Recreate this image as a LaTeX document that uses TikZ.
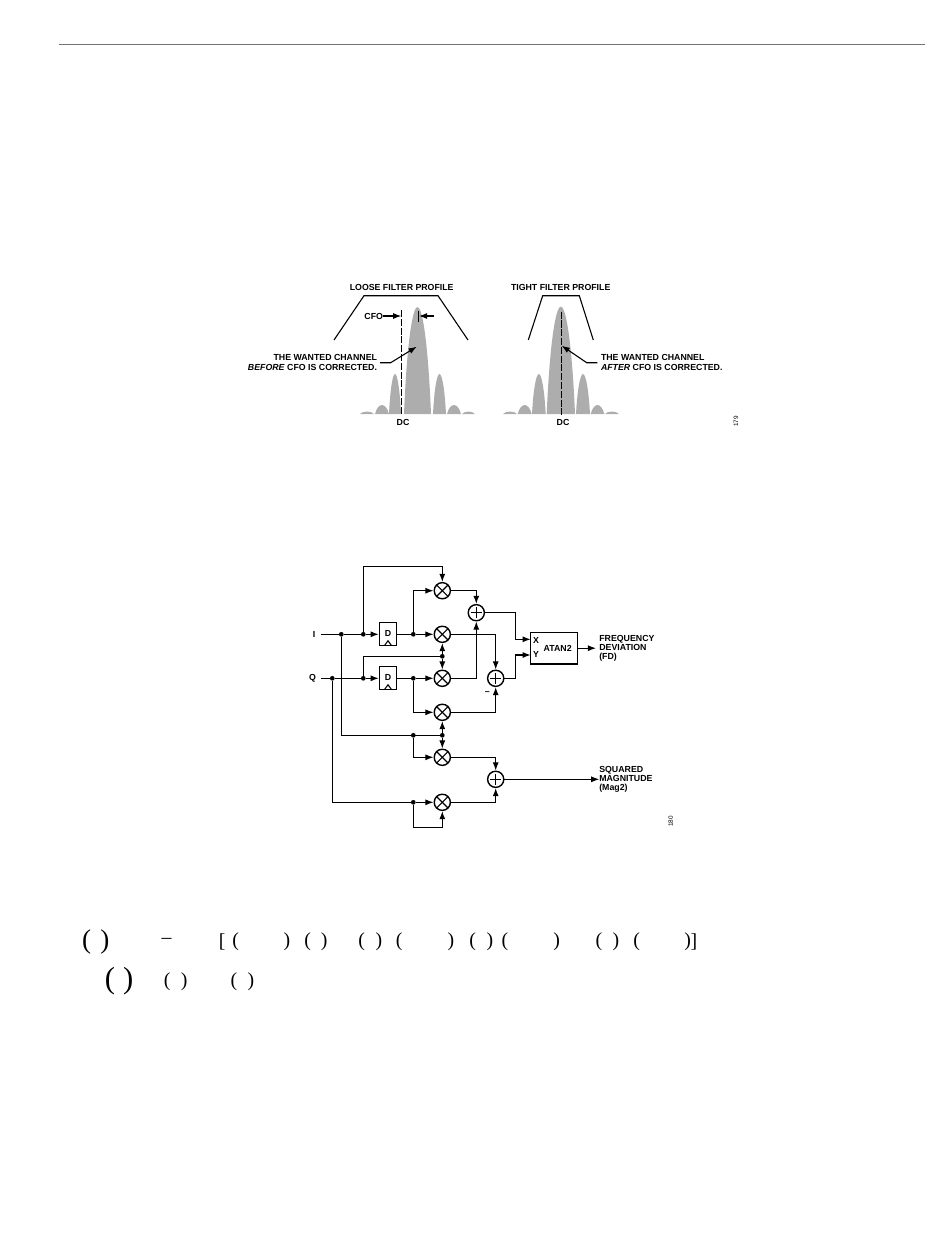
\documentclass[tikz,border=0pt]{standalone}
\usepackage{fontspec}
\setmainfont{Liberation Sans}
\newfontfamily\eqfont{Liberation Serif}
\usetikzlibrary{arrows.meta}

% one lobe of the spectrum: left end, right end, height of the top
\newcommand{\lobeat}[3]{
  \fill [lobe] (#1,414) .. controls ({#1+0.10*(#2-#1)},{414-0.62*(414-#3)}) and ({#1+0.30*(#2-#1)},#3) .. ({(#1+#2)/2},#3)
    .. controls ({#2-0.30*(#2-#1)},#3) and ({#2-0.10*(#2-#1)},{414-0.62*(414-#3)}) .. (#2,414) -- cycle;
}

\tikzset{
  >={Latex[length=4.6pt,width=3.4pt]},
  wire/.style={line width=0.62pt},
  lobe/.style={fill=black!32},
  lbl/.style={font=\fontsize{5}{5.7}\selectfont\bfseries, inner sep=0pt, outer sep=0pt},
  lbllow/.style={font=\fontsize{5}{5.1}\selectfont\bfseries, inner sep=0pt, outer sep=0pt},
  figno/.style={font=\fontsize{3.6}{4}\selectfont, rotate=90, inner sep=0pt},
  eqpar/.style={font=\eqfont\fontsize{11.3}{12}\selectfont, inner sep=0pt},
  eqbig/.style={font=\eqfont\fontsize{15.4}{16}\selectfont, inner sep=0pt},
  eqhuge/.style={font=\eqfont\fontsize{17.4}{18}\selectfont, inner sep=0pt},
  dot/.style={fill=black, circle, inner sep=0pt, minimum size=2.7pt},
  delaybox/.style={draw, wire, inner sep=0pt, minimum width=9.9pt, minimum height=13.3pt, fill=white},
  mult/.style={draw, line width=0.8pt, circle, inner sep=0pt, minimum size=9.2pt,
    path picture={\draw[wire] (path picture bounding box.north west) -- (path picture bounding box.south east);
                  \draw[wire] (path picture bounding box.north east) -- (path picture bounding box.south west);}},
  adder/.style={draw, line width=0.8pt, circle, inner sep=0pt, minimum size=9.2pt,
    path picture={\draw[wire] ([xshift=-3.2pt]path picture bounding box.center) -- ([xshift=3.2pt]path picture bounding box.center);
                  \draw[wire] ([yshift=-3.2pt]path picture bounding box.center) -- ([yshift=3.2pt]path picture bounding box.center);}},
}

\begin{document}
\begin{tikzpicture}[x=0.02cm, y=-0.02cm]
\useasboundingbox (0,0) rectangle (950,1248);

% page rule
\draw [black!55, line width=0.5pt] (59,44) -- (925,44);

% left spectrum
\lobeat{360}{374}{411.5}
\lobeat{375}{389}{405}
\lobeat{389}{401}{374}
\lobeat{404}{431}{307}
\lobeat{433}{446}{374}
\lobeat{447}{461}{405}
\lobeat{462}{475}{411.5}

\draw [wire] (334,340) -- (364,295.7) -- (438,295.7) -- (468,340);
\draw [wire, dash pattern=on 4pt off 1pt] (401.3,310) -- (401.3,415);
\draw [wire] (418.7,311) -- (418.7,322);

\node [lbl] (looseT) at (401.7,287.3) {LOOSE FILTER PROFILE};
\node [lbl, anchor=east] (cfoL) at (383,316) {CFO};
\coordinate (cfoA) at (401.3,316);
\coordinate (cfoB) at (419,316);
\coordinate (cfoC) at (434,316);
\draw [wire, ->] (cfoL) -- (cfoA);
\draw [wire, ->] (cfoC) -- (cfoB);

\node [lbl, anchor=north east, align=right] (beforeL) at (377,354.5) {THE WANTED CHANNEL\\\textit{BEFORE} CFO IS CORRECTED.};
\coordinate (beforeA) at (380,362.7);
\coordinate (beforeB) at (390.7,362.7);
\coordinate (beforeC) at (416.7,346.7);
\draw [wire, ->] (beforeA) -- (beforeB) -- (beforeC);
\node [lbl] (dcL) at (403,422.7) {DC};

% right spectrum
\lobeat{503}{517}{411.5}
\lobeat{517.7}{531.7}{405}
\lobeat{532}{545.7}{374}
\lobeat{546.7}{575}{306.7}
\lobeat{576}{590}{374}
\lobeat{590.7}{604.3}{405}
\lobeat{605}{619}{411.5}

\draw [wire] (528.3,340) -- (542.7,295.7) -- (579.3,295.7) -- (593.3,340);
\draw [wire, dash pattern=on 4pt off 1pt] (561.3,311.7) -- (561.3,415);

\node [lbl] (tightT) at (560.7,287.3) {TIGHT FILTER PROFILE};
\node [lbl, anchor=north west, align=left] (afterL) at (601,354.5) {THE WANTED CHANNEL\\\textit{AFTER} CFO IS CORRECTED.};
\coordinate (afterA) at (597.3,362.7);
\coordinate (afterB) at (586.7,362.7);
\coordinate (afterC) at (561.7,345.7);
\draw [wire, ->] (afterA) -- (afterB) -- (afterC);
\node [lbl] (dcR) at (563,422.7) {DC};
\node [figno] (fig179) at (736,421.7) {179};

% multipliers, adders, delays
\node [mult] (M1) at (442.3,590.7) {};
\node [mult] (M2) at (442.3,634.3) {};
\node [mult] (M3) at (442.3,678.3) {};
\node [mult] (M4) at (442.3,712.3) {};
\node [mult] (M5) at (442.3,757.3) {};
\node [mult] (M6) at (442.3,802.3) {};

\node [adder] (A1) at (476.3,612.7) {};
\node [adder] (A2) at (495.7,678.3) {};
\node [adder] (A3) at (495.7,779.3) {};

\node [delaybox] (D1) at (388,634) {};
\node [delaybox] (D2) at (388,678) {};
\node [lbllow] (D1t) at (388,633) {D};
\node [lbllow] (D2t) at (388,677) {D};
\draw [wire] (384.5,645.5) -- (388,640.8) -- (391.5,645.5);
\draw [wire] (384.5,689.5) -- (388,684.8) -- (391.5,689.5);

\node [lbllow] (inI) at (314,634.3) {I};
\node [lbllow] (inQ) at (312.5,678.3) {Q};

\node [dot] (dIa) at (341.3,634.3) {};
\node [dot] (dIb) at (363.3,634.3) {};
\node [dot] (dIc) at (413.3,634.3) {};
\node [dot] (dQa) at (332.3,678.3) {};
\node [dot] (dQb) at (363.3,678.3) {};
\node [dot] (dQc) at (413.3,678.3) {};
\node [dot] (dMid) at (442.3,656.3) {};
\node [dot] (dLowL) at (413.3,735.3) {};
\node [dot] (dLow) at (442.3,735.3) {};
\node [dot] (dBot) at (413.3,802.3) {};

\coordinate (cTop) at (442.3,566.7);
\coordinate (cLoop) at (442.3,827.3);
\coordinate (cXup) at (515.3,612.7);
\coordinate (cYdn) at (515.3,678.3);
\coordinate (cX) at (530.7,639.3);
\coordinate (cY) at (530.7,655);
\coordinate (cFd) at (596,648.2);

% inputs
\draw [wire, shorten <=3.5pt] (inI) -- (dIa);
\draw [wire] (dIa) -- (dIb);
\draw [wire, ->] (dIb) -- (D1.west |- dIb);
\draw [wire, shorten <=3pt] (inQ) -- (dQa);
\draw [wire] (dQa) -- (dQb);
\draw [wire, ->] (dQb) -- (D2.west |- dQb);

% multiplier inputs
\draw [wire, ->] (dIb) |- (cTop) -- (M1);
\draw [wire] (D1.east |- dIc) -- (dIc);
\draw [wire, ->] (dIc) |- (M1);
\draw [wire, ->] (dIc) -- (M2);
\draw [wire] (D2.east |- dQc) -- (dQc);
\draw [wire, ->] (dQc) -- (M3);
\draw [wire, ->] (dQc) |- (M4);
\draw [wire] (dQb) |- (dMid);
\draw [wire, ->] (dMid) -- (M2);
\draw [wire, ->] (dMid) -- (M3);
\draw [wire] (dIa) |- (dLow);
\draw [wire, ->] (dLow) -- (M4);
\draw [wire, ->] (dLow) -- (M5);
\draw [wire, ->] (dLowL) |- (M5);
\draw [wire] (dQa) |- (dBot);
\draw [wire, ->] (dBot) -- (M6);
\draw [wire, ->] (dBot) |- (cLoop) -- (M6);

% multiplier outputs
\draw [wire, ->] (M1) -| (A1);
\draw [wire, ->] (M2) -| (A2);
\draw [wire, ->] (M3) -| (A1);
\draw [wire, ->] (M4) -| (A2);
\draw [wire, ->] (M5) -| (A3);
\draw [wire, ->] (M6) -| (A3);
\node [lbllow] (minus) at (487.3,693.3) {--};

% atan2
\node [draw, wire, inner sep=0pt, minimum width=26.4pt, minimum height=18pt] (atan) at (554,648.2) {};
\node [lbllow] (atanT) at (557.7,648.3) {ATAN2};
\node [lbllow] (xT) at (536,640) {X};
\node [lbllow] (yT) at (536,654.3) {Y};
\draw [wire, ->] (A1) -- (cXup) |- (cX);
\draw [wire, ->] (A2) -- (cYdn) |- (cY);

\node [lbllow, anchor=west, align=left] (fdL) at (599.3,648.3) {FREQUENCY\\DEVIATION\\(FD)};
\node [lbllow, anchor=west, align=left] (magL) at (599.3,779.3) {SQUARED\\MAGNITUDE\\(Mag2)};
\draw [wire, ->] (atan) -- (cFd);
\draw [wire, ->] (A3) -- (magL);
\node [figno] (fig180) at (670.7,821.7) {180};

% equation fragments
\node [eqbig] (pa) at (86.7,941.7) {(};
\node [eqbig] (pb) at (105,941.7) {)};
\node [eqpar] (pc) at (166.7,940.5) {–};
\node [eqpar] (pd) at (222.3,941.7) {[};
\node [eqpar] (pe) at (235.7,941.7) {(};
\node [eqpar] (pf) at (287,941.7) {)};
\node [eqpar] (pg) at (307.7,941.7) {(};
\node [eqpar] (ph) at (324.3,941.7) {)};
\node [eqpar] (pi) at (361.7,941.7) {(};
\node [eqpar] (pj) at (379,941.7) {)};
\node [eqpar] (pk) at (399.3,941.7) {(};
\node [eqpar] (pl) at (451,941.7) {)};
\node [eqpar] (pm) at (472.7,941.7) {(};
\node [eqpar] (pn) at (490,941.7) {)};
\node [eqpar] (po) at (505,941.7) {(};
\node [eqpar] (pp) at (556.7,941.7) {)};
\node [eqpar] (pq) at (599,941.7) {(};
\node [eqpar] (pr) at (616,941.7) {)};
\node [eqpar] (ps) at (636.7,941.7) {(};
\node [eqpar] (pt) at (687.7,941.7) {)};
\node [eqpar] (pu) at (694,941.7) {]};

\node [eqhuge] (qa) at (110,981) {(};
\node [eqhuge] (qb) at (128.3,981) {)};
\node [eqpar] (qc) at (167.3,981.7) {(};
\node [eqpar] (qd) at (184.3,981.7) {)};
\node [eqpar] (qe) at (234,981.7) {(};
\node [eqpar] (qf) at (251,981.7) {)};
\end{tikzpicture}
\end{document}
